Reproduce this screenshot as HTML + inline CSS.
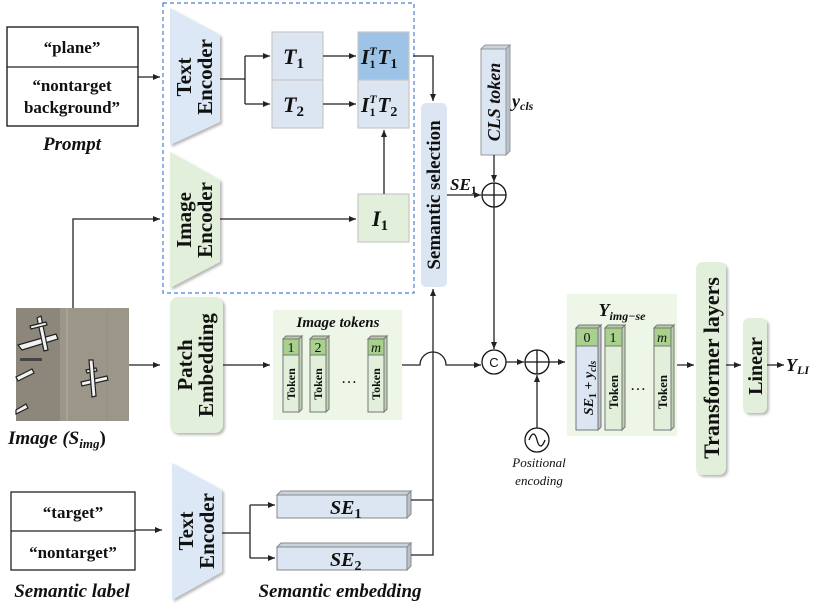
<!DOCTYPE html>
<html><head><meta charset="utf-8"><style>
html,body{margin:0;padding:0;background:#fff}
svg{display:block}
text{font-family:"Liberation Serif",serif;fill:#111}
.b{font-weight:bold}
.bi{font-weight:bold;font-style:italic}
</style></head><body>
<svg width="813" height="606" viewBox="0 0 813 606" xmlns="http://www.w3.org/2000/svg">
<defs>
<marker id="a" markerWidth="8" markerHeight="8" refX="7" refY="4" orient="auto" markerUnits="userSpaceOnUse"><path d="M0,1 L7,4 L0,7 z" fill="#222"/></marker>
<filter id="sh" x="-20%" y="-20%" width="150%" height="150%"><feDropShadow dx="2" dy="2" stdDeviation="1.2" flood-color="#888" flood-opacity="0.6"/></filter>
</defs>
<g stroke="#222" stroke-width="1.3" fill="none">
<rect x="7" y="27" width="131" height="99" stroke="#111"/>
<line x1="7" y1="67" x2="138" y2="67"/>
<rect x="11" y="492" width="124" height="78"/>
<line x1="11" y1="531" x2="135" y2="531"/>
</g>
<rect x="163" y="3" width="251" height="290" fill="none" stroke="#4a7fd4" stroke-width="1.2" stroke-dasharray="4,3"/>
<polygon points="170,8 220,35 220,122 170,145" fill="#dce8f5" filter="url(#sh)"/>
<polygon points="170,152 220,180 220,262 170,288" fill="#e2efda" filter="url(#sh)"/>
<polygon points="172,463 222,490 222,572 172,600" fill="#dce8f5" filter="url(#sh)"/>
<text class="b" font-size="21" transform="translate(191,77) rotate(-90)" text-anchor="middle">Text</text>
<text class="b" font-size="21" transform="translate(212,77) rotate(-90)" text-anchor="middle">Encoder</text>
<text class="b" font-size="21" transform="translate(191,220) rotate(-90)" text-anchor="middle">Image</text>
<text class="b" font-size="21" transform="translate(212,220) rotate(-90)" text-anchor="middle">Encoder</text>
<text class="b" font-size="21" transform="translate(193,531) rotate(-90)" text-anchor="middle">Text</text>
<text class="b" font-size="21" transform="translate(214,531) rotate(-90)" text-anchor="middle">Encoder</text>
<g stroke="#c8c8c8" stroke-width="1.2">
<rect x="272" y="32" width="51" height="48" fill="#dce6f2"/>
<rect x="272" y="80" width="51" height="48" fill="#dce6f2"/>
<rect x="358" y="32" width="51" height="48" fill="#9dc3e6"/>
<rect x="358" y="80" width="51" height="48" fill="#dce6f2"/>
<rect x="358" y="194" width="51" height="48" fill="#e2efda"/>
</g>
<text class="bi" font-size="22" x="283" y="64">T<tspan font-size="15" font-style="normal" dy="4">1</tspan></text>
<text class="bi" font-size="22" x="283" y="112">T<tspan font-size="15" font-style="normal" dy="4">2</tspan></text>
<text class="bi" font-size="21" x="361" y="64">I<tspan font-size="12" dy="-9">T</tspan><tspan font-size="12" font-style="normal" dx="-7" dy="13">1</tspan><tspan dx="2" dy="-4">T</tspan><tspan font-size="14" font-style="normal" dy="4">1</tspan></text>
<text class="bi" font-size="21" x="361" y="112">I<tspan font-size="12" dy="-9">T</tspan><tspan font-size="12" font-style="normal" dx="-7" dy="13">1</tspan><tspan dx="2" dy="-4">T</tspan><tspan font-size="14" font-style="normal" dy="4">2</tspan></text>
<text class="bi" font-size="22" x="372" y="226">I<tspan font-size="15" font-style="normal" dy="4">1</tspan></text>
<rect x="421" y="103" width="26" height="184" rx="5" fill="#dce6f2"/>
<text class="b" font-size="19" transform="translate(440,195) rotate(-90)" text-anchor="middle">Semantic selection</text>
<polygon points="481,49 485,45 510,45 506,49" fill="#c9d3de" stroke="#999"/>
<polygon points="506,49 510,45 510,151 506,155" fill="#b8c2cc" stroke="#999"/>
<rect x="481" y="49" width="25" height="106" fill="#dce6f2" stroke="#999"/>
<text class="bi" font-size="18" transform="translate(500,102) rotate(-90)" text-anchor="middle">CLS token</text>
<text class="bi" font-size="18" x="512" y="107">y<tspan font-size="12" dy="3">cls</tspan></text>
<g stroke="#111" stroke-width="1.3" fill="none">
<circle cx="494" cy="195" r="12"/><line x1="482" y1="195" x2="506" y2="195"/><line x1="494" y1="183" x2="494" y2="207"/>
<circle cx="537" cy="362" r="12"/><line x1="525" y1="362" x2="549" y2="362"/><line x1="537" y1="350" x2="537" y2="374"/>
<circle cx="494" cy="362" r="12"/>
<circle cx="537" cy="440" r="12"/>
<path d="M529,440 C532,432 535,432 537,440 C539,448 542,448 545,440"/>
</g>
<text font-size="13" x="494" y="367" text-anchor="middle" style="font-family:'Liberation Sans',sans-serif">C</text>
<text class="bi" font-size="17" x="450" y="190">SE<tspan font-size="12" font-style="normal" dy="4">1</tspan></text>
<text font-size="13" font-style="italic" x="539" y="467" text-anchor="middle">Positional</text>
<text font-size="13" font-style="italic" x="539" y="485" text-anchor="middle">encoding</text>
<!-- image -->
<rect x="16" y="308" width="113" height="113" fill="#8c877a"/>
<rect x="60" y="308" width="69" height="113" fill="#9b9688"/>
<line x1="67" y1="308" x2="67" y2="421" stroke="#aaa496" stroke-width="2"/>
<line x1="107" y1="308" x2="107" y2="421" stroke="#928d80" stroke-width="1"/>
<g fill="#f2f2f2" stroke="#222" stroke-width="1.2">
<path d="M18,345 L56,334 L58,339 L22,350 z"/><path d="M37,318 L41,316 L48,350 L44,351 z"/><path d="M30,326 L46,322 L47,325 L31,329 z"/>
<path d="M81,382 L107,376 L108,380 L82,386 z"/><path d="M86,370 L96,368 L97,371 L87,373 z"/><path d="M89,360 L93,360 L96,396 L92,397 z"/>
<path d="M16,377 L32,369 L34,373 L18,381 z"/>
<path d="M16,410 L26,404 L28,408 L16,414 z"/>
</g>
<rect x="20" y="358" width="22" height="3" fill="#444"/>
<text class="bi" font-size="19" x="8" y="444">Image (S<tspan font-size="13" dy="4">img</tspan><tspan dy="-4" font-style="normal">)</tspan></text>
<rect x="170" y="297" width="53" height="136" rx="8" fill="#e2efda" filter="url(#sh)"/>
<text class="b" font-size="21" transform="translate(192,365) rotate(-90)" text-anchor="middle">Patch</text>
<text class="b" font-size="21" transform="translate(213,365) rotate(-90)" text-anchor="middle">Embedding</text>
<rect x="273" y="310" width="129" height="110" fill="#eef6e8"/>
<text class="bi" font-size="15" x="338" y="327" text-anchor="middle">Image tokens</text>
<g stroke="#777" stroke-width="1">
<g id="tk"><polygon points="283,339 286,336 302,336 299,339" fill="#b6cca6"/><polygon points="299,339 302,336 302,409 299,412" fill="#bfd3b0"/><rect x="283" y="339" width="16" height="16" fill="#a9d18e"/><rect x="283" y="355" width="16" height="57" fill="#e2efda"/></g>
<use href="#tk" x="27"/><use href="#tk" x="85"/>
</g>
<text font-size="14" x="291" y="352" text-anchor="middle">1</text>
<text font-size="14" x="318" y="352" text-anchor="middle">2</text>
<text font-size="14" font-style="italic" x="376" y="352" text-anchor="middle">m</text>
<text class="b" font-size="12" transform="translate(295,384) rotate(-90)" text-anchor="middle">Token</text>
<text class="b" font-size="12" transform="translate(322,384) rotate(-90)" text-anchor="middle">Token</text>
<text class="b" font-size="12" transform="translate(380,384) rotate(-90)" text-anchor="middle">Token</text>
<text font-size="16" x="349" y="383" text-anchor="middle">…</text>
<rect x="567" y="294" width="110" height="142" fill="#eef6e8"/>
<text class="bi" font-size="18" x="622" y="316" text-anchor="middle">Y<tspan font-size="12" dy="4">img−se</tspan></text>
<g stroke="#777" stroke-width="1">
<polygon points="576,328 579,325 601,325 598,328" fill="#b6cca6"/><polygon points="598,328 601,325 601,427 598,430" fill="#b8c2cc"/>
<rect x="576" y="328" width="22" height="18" fill="#a9d18e"/><rect x="576" y="346" width="22" height="84" fill="#dce6f2"/>
<polygon points="605,328 608,325 625,325 622,328" fill="#b6cca6"/><polygon points="622,328 625,325 625,427 622,430" fill="#bfd3b0"/>
<rect x="605" y="328" width="17" height="18" fill="#a9d18e"/><rect x="605" y="346" width="17" height="84" fill="#e2efda"/>
<polygon points="654,328 657,325 674,325 671,328" fill="#b6cca6"/><polygon points="671,328 674,325 674,427 671,430" fill="#bfd3b0"/>
<rect x="654" y="328" width="17" height="18" fill="#a9d18e"/><rect x="654" y="346" width="17" height="84" fill="#e2efda"/>
</g>
<text font-size="14" x="587" y="342" text-anchor="middle">0</text>
<text font-size="14" x="613" y="342" text-anchor="middle">1</text>
<text font-size="14" font-style="italic" x="662" y="342" text-anchor="middle">m</text>
<text class="bi" font-size="14" transform="translate(593,388) rotate(-90)" text-anchor="middle">SE<tspan font-size="10" font-style="normal" dy="3">1</tspan><tspan dy="-3" font-style="normal"> + </tspan>y<tspan font-size="10" dy="3">cls</tspan></text>
<text class="b" font-size="13" transform="translate(618,392) rotate(-90)" text-anchor="middle">Token</text>
<text class="b" font-size="13" transform="translate(667,392) rotate(-90)" text-anchor="middle">Token</text>
<text font-size="16" x="638" y="390" text-anchor="middle">…</text>
<rect x="696" y="262" width="30" height="213" rx="7" fill="#e2efda" filter="url(#sh)"/>
<text class="b" font-size="22" transform="translate(719,368) rotate(-90)" text-anchor="middle">Transformer layers</text>
<rect x="743" y="318" width="24" height="95" rx="6" fill="#e2efda" filter="url(#sh)"/>
<text class="b" font-size="20" transform="translate(762,366) rotate(-90)" text-anchor="middle">Linear</text>
<text class="bi" font-size="18" x="786" y="371">Y<tspan font-size="12" dy="3">LI</tspan></text>
<g stroke="#888" stroke-width="1">
<polygon points="277,495 281,491 411,491 407,495" fill="#c9d3de"/><polygon points="407,495 411,491 411,514 407,518" fill="#b8c2cc"/><rect x="277" y="495" width="130" height="23" fill="#dce6f2"/>
<polygon points="277,547 281,543 411,543 407,547" fill="#c9d3de"/><polygon points="407,547 411,543 411,566 407,570" fill="#b8c2cc"/><rect x="277" y="547" width="130" height="23" fill="#dce6f2"/>
</g>
<text class="bi" font-size="20" x="330" y="514">SE<tspan font-size="14" font-style="normal" dy="4">1</tspan></text>
<text class="bi" font-size="20" x="330" y="566">SE<tspan font-size="14" font-style="normal" dy="4">2</tspan></text>
<text class="b" font-size="17" x="72" y="53" text-anchor="middle">“plane”</text>
<text class="b" font-size="17" x="72" y="91" text-anchor="middle">“nontarget</text>
<text class="b" font-size="17" x="72" y="113" text-anchor="middle">background”</text>
<text class="bi" font-size="19" x="72" y="150" text-anchor="middle">Prompt</text>
<text class="b" font-size="17" x="73" y="518" text-anchor="middle">“target”</text>
<text class="b" font-size="17" x="73" y="558" text-anchor="middle">“nontarget”</text>
<text class="bi" font-size="19" x="72" y="597" text-anchor="middle">Semantic label</text>
<text class="bi" font-size="19" x="340" y="597" text-anchor="middle">Semantic embedding</text>
<g stroke="#222" stroke-width="1.3" fill="none">
<line x1="138" y1="77" x2="160" y2="77" marker-end="url(#a)"/>
<polyline points="220,79 245,79"/><polyline points="245,56 245,104"/>
<line x1="245" y1="56" x2="270" y2="56" marker-end="url(#a)"/>
<line x1="245" y1="104" x2="270" y2="104" marker-end="url(#a)"/>
<line x1="323" y1="56" x2="356" y2="56" marker-end="url(#a)"/>
<line x1="323" y1="104" x2="356" y2="104" marker-end="url(#a)"/>
<line x1="220" y1="219" x2="356" y2="219" marker-end="url(#a)"/>
<line x1="384" y1="194" x2="384" y2="130" marker-end="url(#a)"/>
<polyline points="413,56 433,56 433,101" marker-end="url(#a)"/>
<line x1="447" y1="195" x2="481" y2="195" marker-end="url(#a)"/>
<line x1="494" y1="155" x2="494" y2="182" marker-end="url(#a)"/>
<line x1="494" y1="207" x2="494" y2="349" marker-end="url(#a)"/>
<polyline points="73,308 73,219 160,219" marker-end="url(#a)"/>
<line x1="129" y1="365" x2="160" y2="365" marker-end="url(#a)"/>
<line x1="223" y1="365" x2="270" y2="365" marker-end="url(#a)"/>
<path d="M402,365 L420,365 A13,13 0 0 1 446,365 L481,365" marker-end="url(#a)"/>
<line x1="506" y1="362" x2="524" y2="362" marker-end="url(#a)"/>
<line x1="537" y1="428" x2="537" y2="375" marker-end="url(#a)"/>
<line x1="549" y1="362" x2="565" y2="362" marker-end="url(#a)"/>
<line x1="677" y1="365" x2="694" y2="365" marker-end="url(#a)"/>
<line x1="726" y1="365" x2="741" y2="365" marker-end="url(#a)"/>
<line x1="767" y1="365" x2="784" y2="365" marker-end="url(#a)"/>
<line x1="135" y1="530" x2="162" y2="530" marker-end="url(#a)"/>
<line x1="222" y1="533" x2="250" y2="533"/><line x1="250" y1="505" x2="250" y2="558"/>
<line x1="250" y1="505" x2="275" y2="505" marker-end="url(#a)"/>
<line x1="250" y1="558" x2="275" y2="558" marker-end="url(#a)"/>
<polyline points="411,500 433,500"/>
<polyline points="411,555 433,555 433,289" marker-end="url(#a)"/>
</g>
</svg>
</body></html>
